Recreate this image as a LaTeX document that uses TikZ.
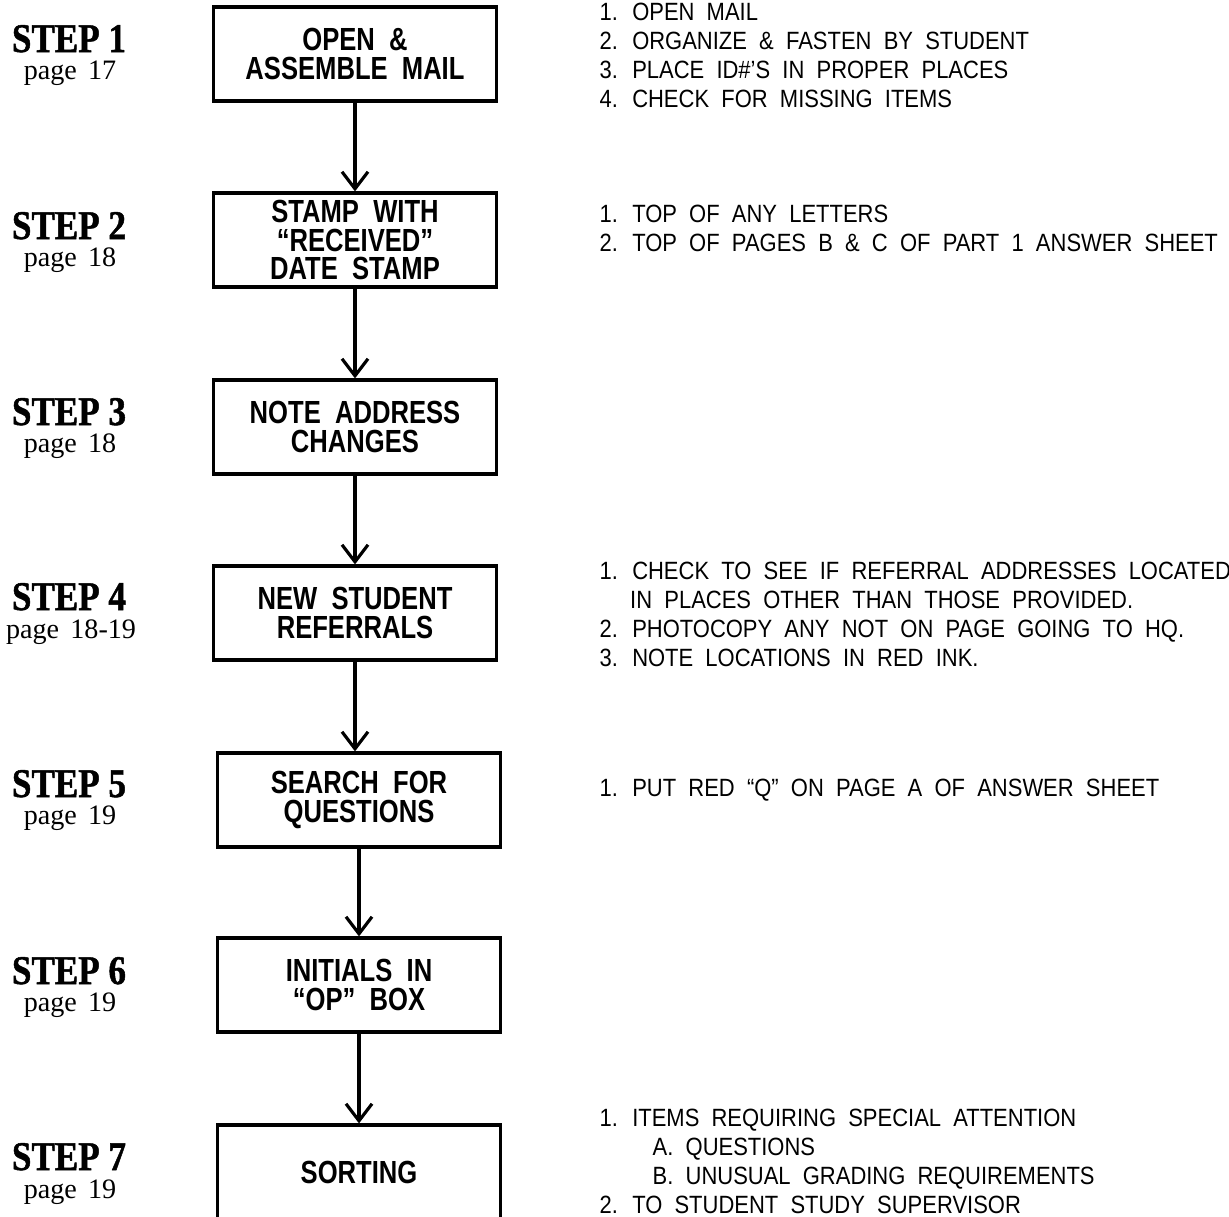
\documentclass[tikz,border=0pt]{standalone}
\usepackage{fontspec}
\setmainfont{Liberation Serif}
\newfontfamily\condsans[FakeStretch=0.88,WordSpace=2]{Liberation Sans}
\newfontfamily\boxsans[FakeStretch=0.8,WordSpace=2]{Liberation Sans}
\newfontfamily\stepfont[FakeStretch=0.86,BoldFeatures={FakeBold=1.2}]{Liberation Serif}
\newfontfamily\pagefont[WordSpace=1.6]{Liberation Serif}
\usetikzlibrary{arrows.meta}

\tikzset{
	stepbox/.style={draw=black, line width=0.9pt, minimum width=2.83cm, minimum height=0.94cm,
		inner sep=0pt, align=center, font={\boxsans\bfseries\fontsize{9.1}{8.2}\selectfont}},
	steptitle/.style={anchor=base, inner sep=0pt, font={\stepfont\bfseries\fontsize{11.6}{12}\selectfont}},
	steppage/.style={anchor=base, inner sep=0pt, font={\pagefont\fontsize{8}{9}\selectfont}},
	notes/.style={anchor=north west, inner sep=0pt, align=left, font={\condsans\fontsize{7.1}{8.3}\selectfont}},
	flow/.style={line width=0.9pt, -{Straight Barb[length=1.7mm, width=2.6mm, line width=0.9pt]}}
}

\begin{document}
\begin{tikzpicture}[x=0.01cm, y=-0.01cm]
	
	\useasboundingbox (0, 0) rectangle (1229, 1217);
	
	% boxes
	\node[stepbox] (s1) at (355, 54)   {OPEN \&\\ASSEMBLE MAIL};
	\node[stepbox] (s2) at (355, 240)  {STAMP WITH\\“RECEIVED”\\DATE STAMP};
	\node[stepbox] (s3) at (355, 427)  {NOTE ADDRESS\\CHANGES};
	\node[stepbox] (s4) at (355, 613)  {NEW STUDENT\\REFERRALS};
	\node[stepbox] (s5) at (359, 800)  {SEARCH FOR\\QUESTIONS};
	\node[stepbox] (s6) at (359, 985)  {INITIALS IN\\“OP” BOX};
	\node[stepbox] (s7) at (359, 1172) {SORTING};
	
	% step labels
	\node[steptitle] (t1) at (69, 52)   {STEP 1};
	\node[steppage]  (p1) at (70, 79)   {page 17};
	\node[steptitle] (t2) at (69, 239)  {STEP 2};
	\node[steppage]  (p2) at (70, 266)  {page 18};
	\node[steptitle] (t3) at (69, 425)  {STEP 3};
	\node[steppage]  (p3) at (70, 452)  {page 18};
	\node[steptitle] (t4) at (69, 610)  {STEP 4};
	\node[steppage]  (p4) at (71, 638)  {page 18-19};
	\node[steptitle] (t5) at (69, 797)  {STEP 5};
	\node[steppage]  (p5) at (70, 824)  {page 19};
	\node[steptitle] (t6) at (69, 984)  {STEP 6};
	\node[steppage]  (p6) at (70, 1011) {page 19};
	\node[steptitle] (t7) at (69, 1170) {STEP 7};
	\node[steppage]  (p7) at (70, 1198) {page 19};
	
	% notes
	\node[notes] (n1) at (599, 2) {1. OPEN MAIL\\2. ORGANIZE \& FASTEN BY STUDENT\\3. PLACE ID\#’S IN PROPER PLACES\\4. CHECK FOR MISSING ITEMS};
	\node[notes] (n2) at (599, 204) {1. TOP OF ANY LETTERS\\2. TOP OF PAGES B \& C OF PART 1 ANSWER SHEET};
	\node[notes] (n4) at (599, 561) {1. CHECK TO SEE IF REFERRAL ADDRESSES LOCATED\\\phantom{1.\ }IN PLACES OTHER THAN THOSE PROVIDED.\\2. PHOTOCOPY ANY NOT ON PAGE GOING TO HQ.\\3. NOTE LOCATIONS IN RED INK.};
	\node[notes] (n5) at (599, 778) {1. PUT RED “Q” ON PAGE A OF ANSWER SHEET};
	\node[notes] (n7) at (599, 1108) {1. ITEMS REQUIRING SPECIAL ATTENTION\\\hspace*{0.53cm}A. QUESTIONS\\\hspace*{0.53cm}B. UNUSUAL GRADING REQUIREMENTS\\2. TO STUDENT STUDY SUPERVISOR};
	
	% arrows
	\draw[flow] (s1) -- (s2);
	\draw[flow] (s2) -- (s3);
	\draw[flow] (s3) -- (s4);
	\draw[flow] (s4.south) -- (s4.south |- s5.north);
	\draw[flow] (s5) -- (s6);
	\draw[flow] (s6) -- (s7);
	
\end{tikzpicture}
\end{document}
